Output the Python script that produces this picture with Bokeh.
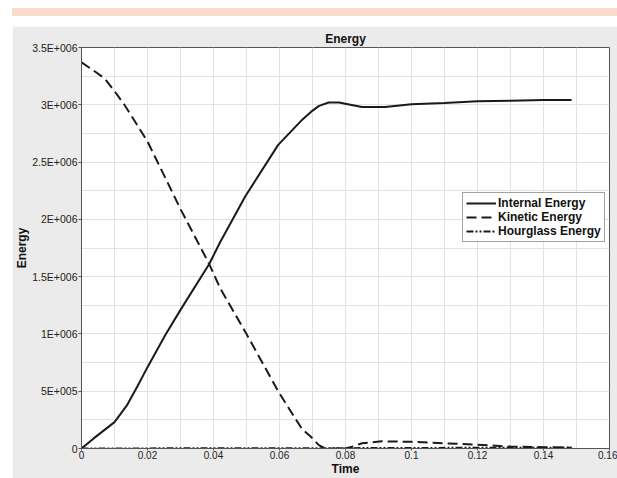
from bokeh.plotting import figure
from bokeh.models import Range1d, FixedTicker, Div
from bokeh.layouts import column
from bokeh.embed import file_html
from bokeh.resources import INLINE

# ---- data ----
internal_t = [0, 0.0036, 0.01, 0.0137, 0.017, 0.02, 0.0254, 0.03, 0.0387, 0.042, 0.0496,
              0.0596, 0.0669, 0.0696, 0.072, 0.0749, 0.078, 0.085, 0.092, 0.1, 0.11, 0.12,
              0.13, 0.14, 0.1485]
internal_e = [0, 86000, 230000, 374000, 545000, 710000, 990000, 1210000, 1610000, 1800000, 2200000,
              2650000, 2870000, 2940000, 2990000, 3020000, 3020000, 2980000, 2980000, 3005000, 3016000, 3030000,
              3035000, 3042000, 3042000]

kinetic_t = [0, 0.0036, 0.007, 0.01, 0.013, 0.02, 0.03, 0.0387, 0.042, 0.0496, 0.0596,
             0.0646, 0.0669, 0.0696, 0.0719, 0.074, 0.080, 0.082, 0.085, 0.091, 0.1,
             0.11, 0.12, 0.13, 0.14, 0.1485]
kinetic_e = [3370000, 3300000, 3230000, 3120000, 3000000, 2680000, 2090000, 1610000, 1400000, 1020000, 500000,
             270000, 167000, 100000, 30000, 0, 0, 15000, 46000, 63000, 58000,
             46000, 32000, 17000, 12000, 6000]

hourglass_t = [0, 0.02, 0.04, 0.06, 0.08, 0.1, 0.12, 0.14, 0.1485]
hourglass_e = [0, 1000, 2000, 2000, 3000, 5000, 6000, 7000, 8000]

x_ticks = [0, 0.02, 0.04, 0.06, 0.08, 0.1, 0.12, 0.14, 0.16]
x_tick_labels = ["0", "0.02", "0.04", "0.06", "0.08", "0.1", "0.12", "0.14", "0.16"]
x_minor = [0.01, 0.03, 0.05, 0.07, 0.09, 0.11, 0.13, 0.15]
y_ticks = [0, 500000, 1000000, 1500000, 2000000, 2500000, 3000000, 3500000]
y_tick_labels = ["0", "5E+005", "1E+006", "1.5E+006", "2E+006", "2.5E+006", "3E+006", "3.5E+006"]
y_minor = [250000, 750000, 1250000, 1750000, 2250000, 2750000, 3250000]

FONT = "Liberation Sans"
INK = "#1a1a1a"

p = figure(width=605, height=452, output_backend="svg", toolbar_location=None,
           x_range=Range1d(0, 0.16), y_range=Range1d(0, 3500000),
           title="Energy", x_axis_label="Time", y_axis_label="Energy",
           min_border_left=66, min_border_right=8, min_border_top=21, min_border_bottom=26,
           background_fill_color="white", border_fill_color="#ebebeb",
           outline_line_color="#555555", outline_line_width=1)
p.margin = (10, 0, 0, 12)

p.title.align = "center"
p.title.text_font = FONT
p.title.text_font_size = "12px"
p.title.text_font_style = "bold"
p.title.text_color = "#111111"
p.title.standoff = 4

p.xaxis.ticker = FixedTicker(ticks=x_ticks, minor_ticks=x_minor)
p.yaxis.ticker = FixedTicker(ticks=y_ticks, minor_ticks=y_minor)
p.xaxis.major_label_overrides = {t: s for t, s in zip(x_ticks, x_tick_labels)}
p.yaxis.major_label_overrides = {t: s for t, s in zip(y_ticks, y_tick_labels)}

for ax in (p.xaxis, p.yaxis):
    ax.axis_line_color = "#555555"
    ax.major_tick_line_color = "#555555"
    ax.major_tick_in = 0
    ax.major_tick_out = 3
    ax.minor_tick_in = 0
    ax.minor_tick_out = 0
    ax.major_label_text_font = FONT
    ax.major_label_text_font_size = "10.5px"
    ax.major_label_text_color = "#222222"
    ax.major_label_standoff = 1
    ax.axis_label_text_font = FONT
    ax.axis_label_text_font_size = "12px"
    ax.axis_label_text_font_style = "bold"
    ax.axis_label_text_color = "#111111"
    ax.axis_label_standoff = 0

# tighter bottom so the x labels fit in the panel
p.xaxis.major_tick_out = 2
p.xaxis.major_label_standoff = 0
p.xaxis.major_label_text_font_size = "10px"
p.xaxis.major_label_text_line_height = 0.9
p.xaxis.axis_label_text_line_height = 0.9

for g in (p.xgrid, p.ygrid):
    g.grid_line_color = "#e2e2e2"
    g.minor_grid_line_color = "#e2e2e2"

p.line(internal_t, internal_e, line_color=INK, line_width=2, legend_label="Internal Energy")
p.line(kinetic_t, kinetic_e, line_color=INK, line_width=2, line_dash="10 5",
       legend_label="Kinetic Energy")
p.line(hourglass_t, hourglass_e, line_color=INK, line_width=2, line_dash="7 2 2 2 2 2",
       legend_label="Hourglass Energy")

lg = p.legend[0]
lg.location = (381, 206)
lg.border_line_color = "#444444"
lg.border_line_width = 1
lg.background_fill_color = "white"
lg.background_fill_alpha = 1
lg.padding = 3
lg.spacing = 0
lg.margin = 0
lg.label_height = 14
lg.glyph_height = 14
lg.glyph_width = 30
lg.label_standoff = 2
lg.label_text_font = FONT
lg.label_text_font_size = "12px"
lg.label_text_font_style = "bold"
lg.label_text_color = "#111111"

band = Div(text="", width=605, height=8, styles={"background-color": "#f9ddcc"})
band.margin = (8, 0, 0, 12)

layout = column(band, p, spacing=0)

open("out.html", "w").write(file_html(layout, INLINE))
